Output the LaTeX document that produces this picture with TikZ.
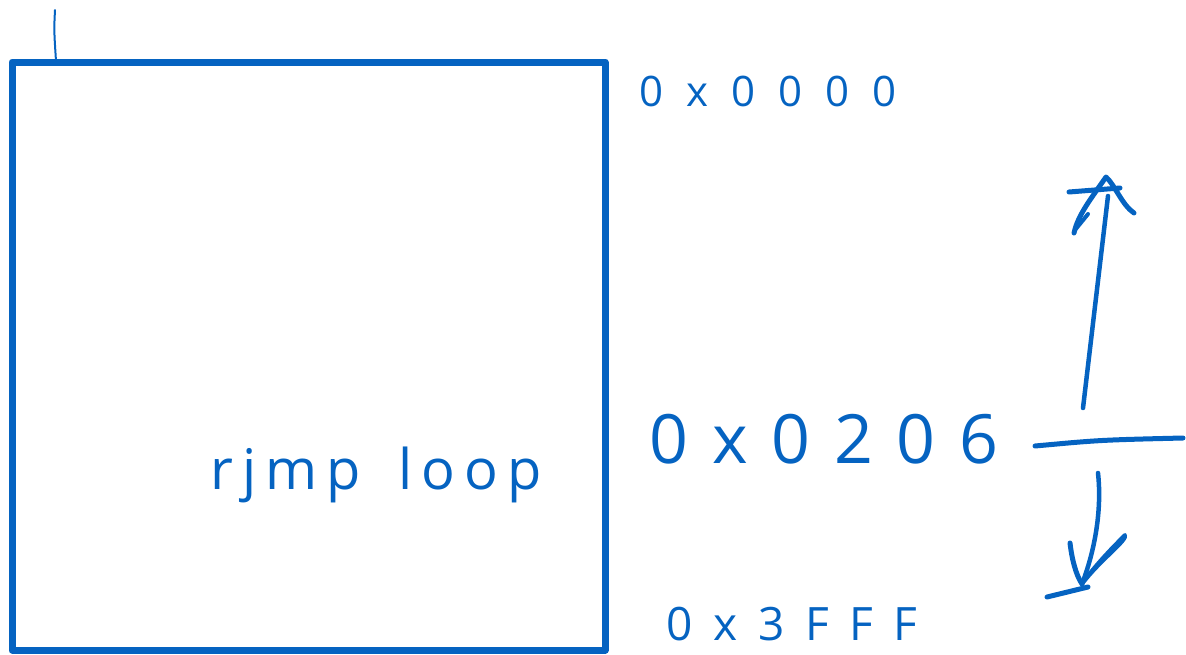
\documentclass[tikz,border=0pt]{standalone}
\usepackage{fontspec}
\setmainfont{Open Sans}
\definecolor{inkblue}{RGB}{5,99,193}
\begin{document}
\begin{tikzpicture}[x=1pt,y=-1pt,
  ink/.style={draw=inkblue,line cap=round,line join=round},
  lbl/.style={text=inkblue,inner sep=0pt,anchor=base}]
\useasboundingbox (0,0) rectangle (1186,654);
% memory box
\draw[ink,line width=7pt] (12,62) rectangle (605,650);
% small tick at top
\coordinate (t1) at (55,10);
\coordinate (t2) at (56,61);
\draw[ink,line width=2pt] (t1) .. controls (54,30) .. (t2);
% labels
\node[lbl,font=\fontsize{42}{42}\selectfont\addfontfeature{LetterSpace=55}] (a0) at (768,106) {0x0000};
\node[lbl,font=\fontsize{68}{68}\selectfont\addfontfeature{LetterSpace=35}] (a1) at (824,463) {0x0206};
\node[lbl,font=\fontsize{46}{46}\selectfont\addfontfeature{LetterSpace=45}] (a2) at (792,640) {0x3FFF};
\node[lbl,font=\fontsize{56}{56}\selectfont\addfontfeature{LetterSpace=16}] (code) at (376,489) {rjmp\hspace{14pt} loop};
% horizontal marker line
\coordinate (h1) at (1035,446);
\coordinate (h2) at (1183,438);
\draw[ink,line width=5pt] (h1) .. controls (1100,440) .. (h2);
% up arrow
\coordinate (u0) at (1083,408);
\coordinate (u1) at (1108,196);
\coordinate (uap) at (1106,177);
\coordinate (ul) at (1074,233);
\coordinate (ur) at (1134,213);
\coordinate (ub1) at (1069,192);
\coordinate (ub2) at (1120,188);
\draw[ink,line width=4.5pt] (u0) -- (u1);
\draw[ink,line width=5pt] (ul) .. controls (1078,215) and (1090,200) .. (uap) .. controls (1115,185) and (1122,205) .. (ur);
\draw[ink,line width=5pt] (ub1) -- (ub2);
\draw[ink,line width=4pt] (1075,230) -- (1088,214);
% down arrow
\coordinate (d0) at (1098,473);
\coordinate (dtip) at (1082,584);
\coordinate (dl) at (1070,543);
\coordinate (dr) at (1125,535);
\coordinate (b1) at (1047,597);
\coordinate (b2) at (1088,587);
\draw[ink,line width=4.5pt] (d0) .. controls (1102,510) and (1095,550) .. (dtip);
\draw[ink,line width=5pt] (dl) .. controls (1072,560) and (1076,575) .. (dtip);
\draw[ink,line width=4pt] (dtip) .. controls (1100,560) and (1128,540) .. (dr) .. controls (1115,545) and (1095,565) .. (dtip);
\draw[ink,line width=5pt] (b1) -- (b2);
\end{tikzpicture}
\end{document}
